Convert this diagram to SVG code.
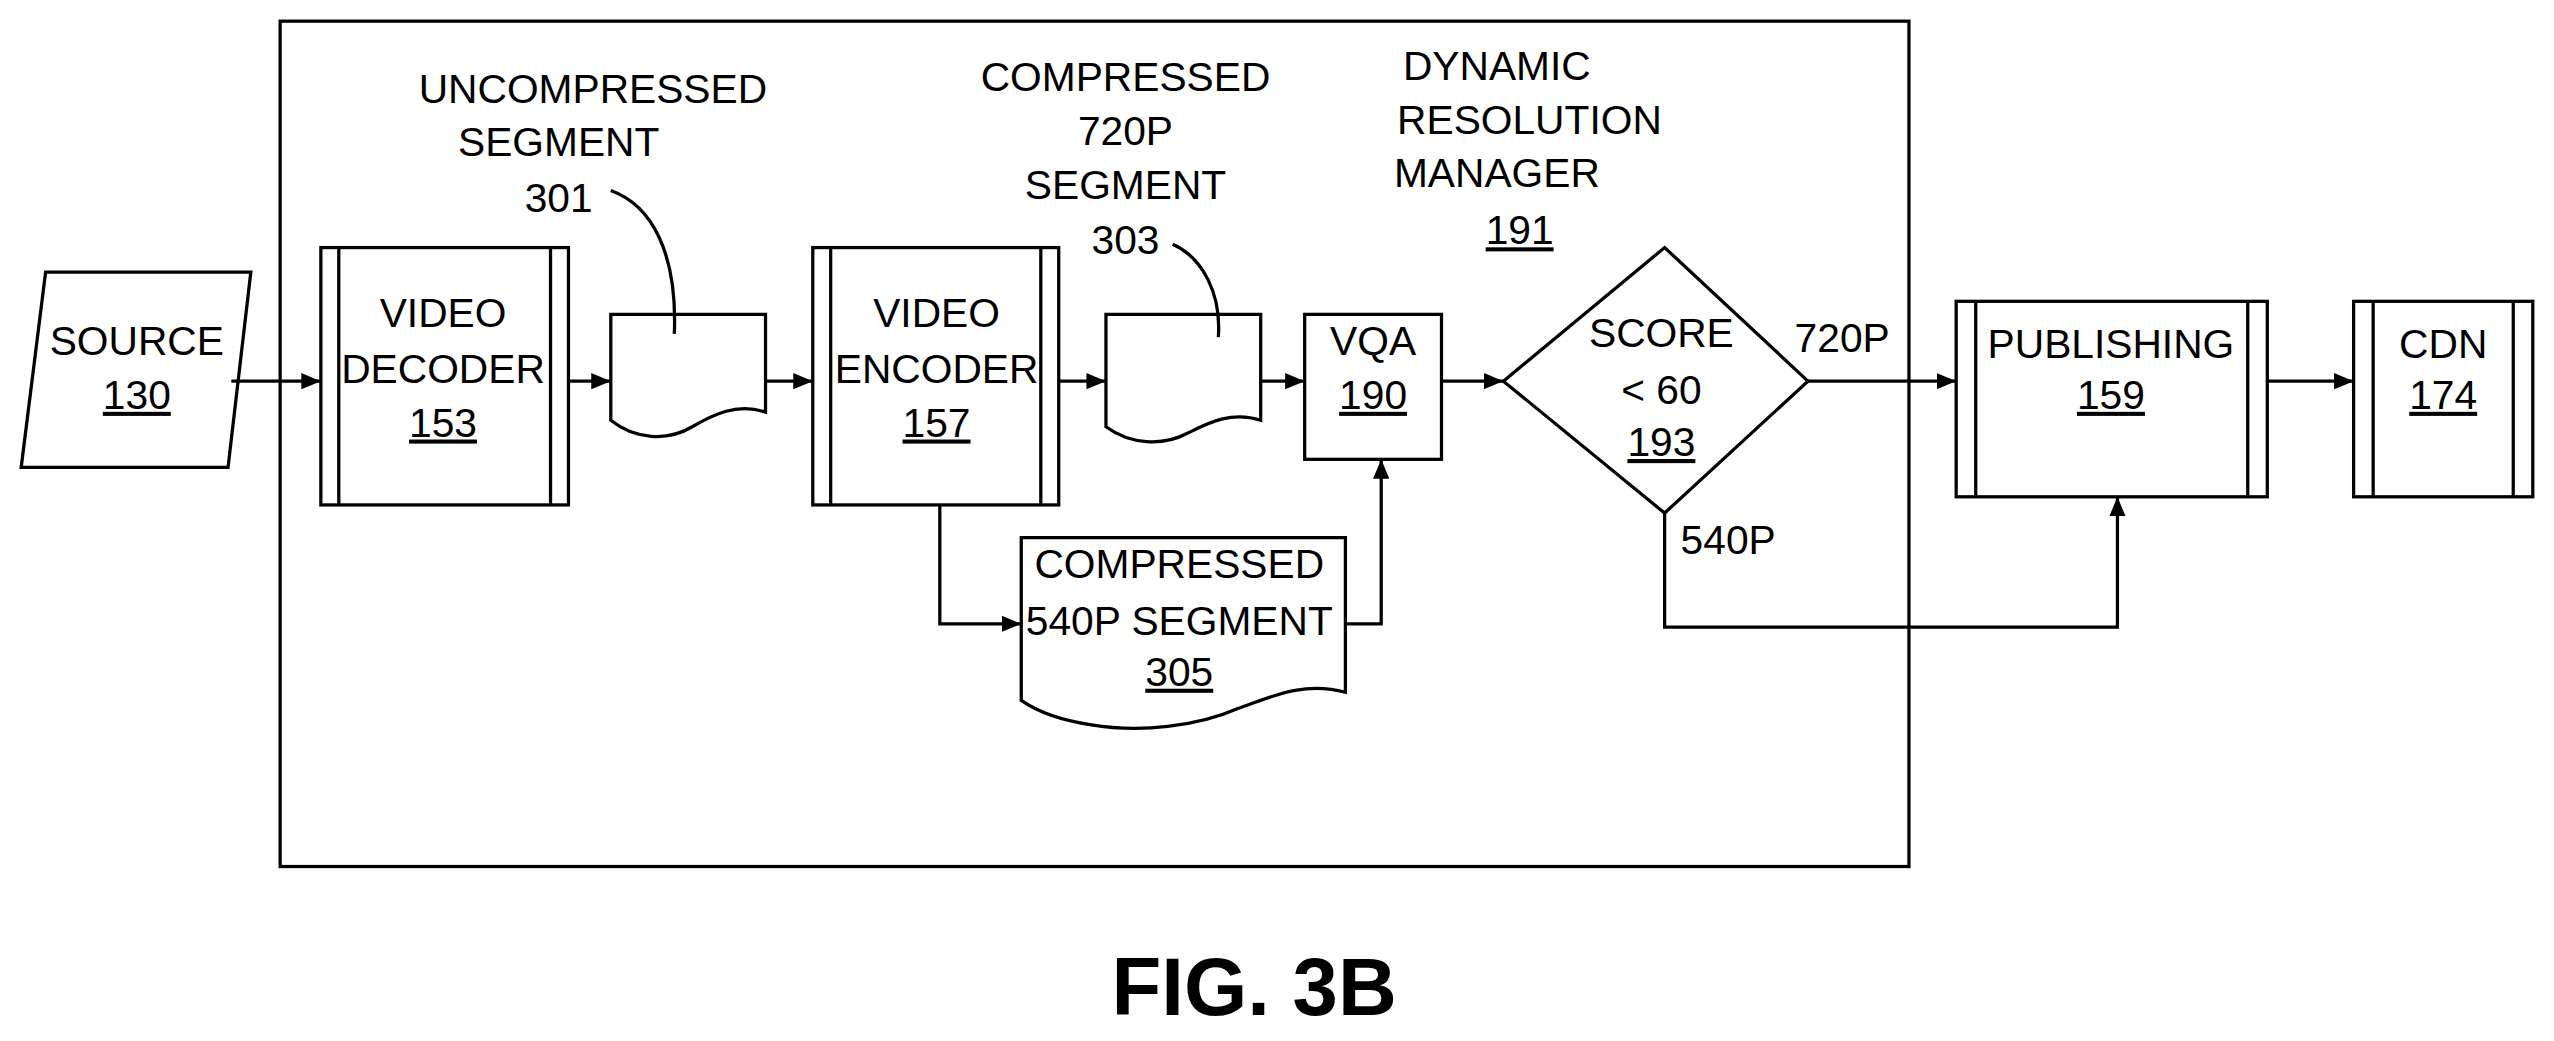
<svg xmlns="http://www.w3.org/2000/svg" width="2554" height="1041" viewBox="0 0 2554 1041">
<style>
.s{fill:#fff;stroke:#000;stroke-width:2}
.l{fill:none;stroke:#000;stroke-width:2}
.t{font-family:"Liberation Sans",Arial,sans-serif;font-size:25px;fill:#000;text-anchor:middle}
.u{text-decoration:underline}
</style>
<defs>
<marker id="a" viewBox="0 0 12 10" refX="12" refY="5" markerWidth="12" markerHeight="10" markerUnits="userSpaceOnUse" orient="auto"><path d="M0,0L12,5L0,10Z" fill="#000"/></marker>
</defs>
<rect width="2554" height="1041" fill="#fff"/>
<g transform="scale(1.6288)">
<rect id="frame" x="172" y="13" width="1000" height="519" class="l" stroke-width="1.5"/>
<g id="labels">
<text class="t" x="364" y="63">UNCOMPRESSED</text>
<text class="t" x="343" y="96">SEGMENT</text>
<text class="t" x="343" y="130">301</text>
<text class="t" x="691" y="56">COMPRESSED</text>
<text class="t" x="691" y="89">720P</text>
<text class="t" x="691" y="122">SEGMENT</text>
<text class="t" x="691" y="156">303</text>
<text class="t" x="919" y="49">DYNAMIC</text>
<text class="t" x="939" y="82">RESOLUTION</text>
<text class="t" x="919" y="115">MANAGER</text>
<text class="t u" x="933" y="150">191</text>
<text class="t" x="1131" y="216">720P</text>
<text class="t" x="1061" y="340">540P</text>
<text x="770" y="623" style="font-family:'Liberation Sans',Arial,sans-serif;font-size:50px;font-weight:bold;text-anchor:middle">FIG. 3B</text>
</g>
<g id="source"><path class="s" d="M28,167H154L140,287H13Z"/><text class="t" x="84" y="218">SOURCE</text><text class="t u" x="84" y="251">130</text></g>
<g id="decoder"><rect class="s" x="197" y="152" width="152" height="158"/><path class="l" d="M208,152V310M338,152V310"/><text class="t" x="272" y="201">VIDEO</text><text class="t" x="272" y="235">DECODER</text><text class="t u" x="272" y="268">153</text></g>
<g id="seg301"><path class="s" d="M375,193H470V253C452,247 437,255 425,262C410,271 390,270 375,258Z"/></g>
<g id="encoder"><rect class="s" x="499" y="152" width="151" height="158"/><path class="l" d="M510,152V310M639,152V310"/><text class="t" x="575" y="201">VIDEO</text><text class="t" x="575" y="235">ENCODER</text><text class="t u" x="575" y="268">157</text></g>
<g id="seg303"><path class="s" d="M679,193H774V258C756,252 741,260 729,266C714,274 694,273 679,262Z"/></g>
<g id="vqa"><rect class="s" x="801" y="193" width="84" height="89"/><text class="t" x="843" y="218">VQA</text><text class="t u" x="843" y="251">190</text></g>
<g id="decision"><path class="s" d="M923,234L1022,152L1110,234L1022,315Z"/><text class="t" x="1020" y="213">SCORE</text><text class="t" x="1020" y="248">&lt; 60</text><text class="t u" x="1020" y="280">193</text></g>
<g id="publishing"><rect class="s" x="1201" y="185" width="191" height="120"/><path class="l" d="M1213,185V305M1380,185V305"/><text class="t" x="1296" y="220">PUBLISHING</text><text class="t u" x="1296" y="251">159</text></g>
<g id="cdn"><rect class="s" x="1445" y="185" width="110" height="120"/><path class="l" d="M1457,185V305M1543,185V305"/><text class="t" x="1500" y="220">CDN</text><text class="t u" x="1500" y="251">174</text></g>
<g id="seg305"><path class="s" d="M627,330H826V425C800,418 780,428 760,435C735,446 700,450 670,445C650,442 637,437 627,430Z"/><text class="t" x="724" y="355">COMPRESSED</text><text class="t" x="724" y="390">540P SEGMENT</text><text class="t u" x="724" y="421">305</text></g>
<g id="connectors">
<path class="l" d="M142,234H197" marker-end="url(#a)"/>
<path class="l" d="M349,234H375" marker-end="url(#a)"/>
<path class="l" d="M470,234H499" marker-end="url(#a)"/>
<path class="l" d="M650,234H679" marker-end="url(#a)"/>
<path class="l" d="M774,234H801" marker-end="url(#a)"/>
<path class="l" d="M885,234H923" marker-end="url(#a)"/>
<path class="l" d="M1110,234H1201" marker-end="url(#a)"/>
<path class="l" d="M1392,234H1445" marker-end="url(#a)"/>
<path class="l" d="M577,310V383H627" marker-end="url(#a)"/>
<path class="l" d="M826,383H848V282" marker-end="url(#a)"/>
<path class="l" d="M1022,315V385H1300V305" marker-end="url(#a)"/>
<path class="l" stroke-width="1.5" d="M375,117C400,126 416,155 414,205"/>
<path class="l" stroke-width="1.5" d="M720,150C738,158 750,180 748,207"/>
</g>
</g>
</svg>
